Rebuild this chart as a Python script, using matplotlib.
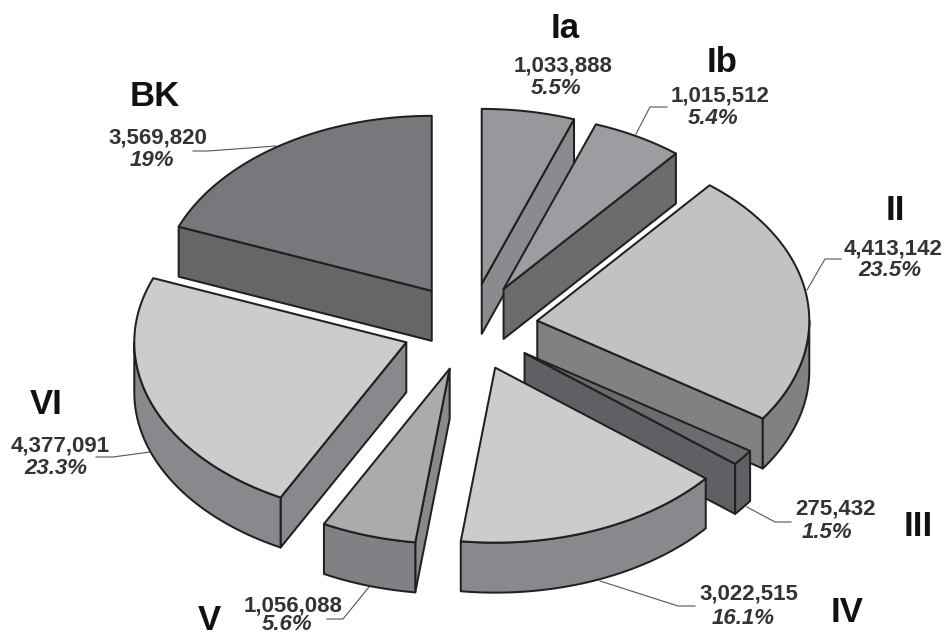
"""Exploded pseudo-3D pie chart of eight classes, drawn from plain polygons."""

import matplotlib
matplotlib.use('Agg')
import matplotlib.pyplot as plt
from matplotlib.patches import Polygon
import numpy as np

plt.rcParams['font.family'] = ['Liberation Sans', 'DejaVu Sans']

# Slices run clockwise from twelve o'clock
names = ['Ia', 'Ib', 'II', 'III', 'IV', 'V', 'VI', 'BK']
counts = [1033888, 1015512, 4413142, 275432, 3022515, 1056088, 4377091, 3569820]
shares = ['5.5%', '5.4%', '23.5%', '1.5%', '16.1%', '5.6%', '23.3%', '19%']

top_colors = ['#97989b', '#9c9da0', '#c1c2c4', '#6a6b6e', '#cbccce', '#ababad', '#cbccce', '#77787b']
rim_colors = ['#8a8b8e', '#6b6c6e', '#808183', '#5f6063', '#88898c', '#808184', '#88898c', '#656668']
cut_colors = ['#8a8b8e', '#6b6c6e', '#808183', '#5f6063', '#88898c', '#88898c', '#88898c', '#656668']

name_pos = [(565, 29), (722, 63), (895, 211), (918, 526), (847, 612), (209, 620), (46, 405), (155, 97)]
count_pos = [(563, 66), (720, 96), (893, 249), (835, 509), (749, 594), (293, 606), (60, 446), (158, 138)]
share_pos = [(556, 89), (713, 118), (890, 271), (827, 533), (743, 618), (287, 625), (56, 468), (152, 161)]

# Leader lines, None where the label sits clear above its slice
leaders = [
    None,
    [(667, 107), (650, 107), (636, 134)],
    [(841, 259), (825, 259), (807, 290)],
    [(791, 522), (775, 522), (747, 507)],
    [(695, 606), (678, 606), (600, 581)],
    [(327, 619), (343, 619), (369, 587)],
    [(96, 457), (113, 457), (150, 452)],
    [(193, 151), (208, 151), (276, 146)],
]

CX, CY = 470, 327
RX, RY = 272, 175
DEPTH = 50
EXPLODE = 0.25
EDGE = '#231f20'
EDGE_W = 1.45


def arc_points(ax0, ay0, t0, t1, drop=0.0):
    """Points along the squashed outer circle, angles in degrees clockwise from top."""
    n = max(2, int(abs(t1 - t0)) + 2)
    t = np.radians(np.linspace(t0, t1, n))
    return np.column_stack([ax0 + RX * np.sin(t), ay0 - RY * np.cos(t) + drop])


def add_face(ax, pts, color, z):
    ax.add_patch(Polygon(pts, closed=True, facecolor=color, edgecolor=EDGE,
                         linewidth=EDGE_W, joinstyle='round', zorder=z))


fig = plt.figure(figsize=(9.45, 6.35), dpi=100)
ax = fig.add_axes([0, 0, 1, 1])
ax.set_xlim(0, 945)
ax.set_ylim(635, 0)
ax.axis('off')

edges = 360 * np.cumsum([0] + counts) / sum(counts)

# Work out each slice's pulled-out apex first, then paint back to front
slices = []
for i in range(len(names)):
    t0, t1 = edges[i], edges[i + 1]
    mid = np.radians((t0 + t1) / 2)
    apex_x = CX + EXPLODE * RX * np.sin(mid)
    apex_y = CY - EXPLODE * RY * np.cos(mid)
    slices.append((apex_y, i, apex_x, t0, t1))

for order, (apex_y, i, apex_x, t0, t1) in enumerate(sorted(slices)):
    z = 2 + order
    apex = np.array([apex_x, apex_y])
    top_arc = arc_points(apex_x, apex_y, t0, t1)

    # Cut faces, only the ones turned towards the viewer
    if np.sin(np.radians(t0)) < 0:
        p = top_arc[0]
        add_face(ax, [apex, p, p + (0, DEPTH), apex + (0, DEPTH)], cut_colors[i], z)
    if np.sin(np.radians(t1)) > 0:
        p = top_arc[-1]
        add_face(ax, [apex, p, p + (0, DEPTH), apex + (0, DEPTH)], cut_colors[i], z)

    # Outer rim is visible on the front half of the circle only
    r0, r1 = max(t0, 90), min(t1, 270)
    if r1 > r0:
        upper = arc_points(apex_x, apex_y, r0, r1)
        lower = arc_points(apex_x, apex_y, r0, r1, drop=DEPTH)
        add_face(ax, np.vstack([upper, lower[::-1]]), rim_colors[i], z)

    add_face(ax, np.vstack([apex, top_arc]), top_colors[i], z)

for i, name in enumerate(names):
    ax.text(*name_pos[i], name, ha='center', va='center', fontsize=25,
            fontweight='bold', color='#111111', zorder=20)
    ax.text(*count_pos[i], f'{counts[i]:,}', ha='center', va='center', fontsize=16,
            fontweight='bold', color='#333333', zorder=20)
    ax.text(*share_pos[i], shares[i], ha='center', va='center', fontsize=16,
            fontweight='bold', fontstyle='italic', color='#333333', zorder=20)
    if leaders[i] is not None:
        xs, ys = zip(*leaders[i])
        ax.plot(xs, ys, color='#555555', linewidth=0.8, zorder=1)

fig.savefig('out.png', dpi=100, facecolor='white')
plt.close(fig)
